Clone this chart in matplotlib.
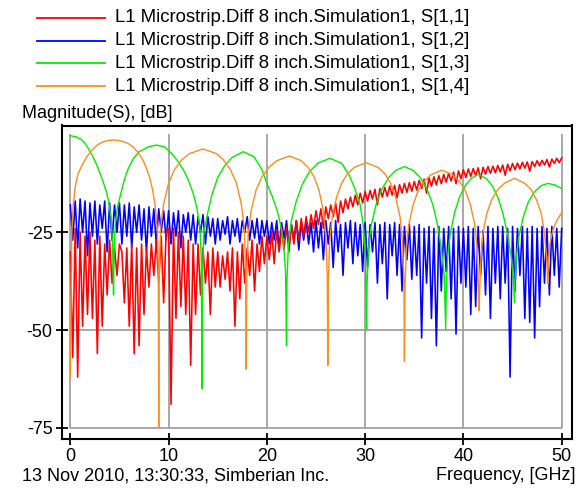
"""
S-parameter magnitude plot, L1 microstrip diff pair, 8 inch.
Four traces: S[1,1] .. S[1,4], 0-50 GHz.
"""

import numpy as np
import matplotlib

matplotlib.use("Agg")
import matplotlib.pyplot as plt
from matplotlib.lines import Line2D

plt.rcParams["font.family"] = ["Liberation Sans", "DejaVu Sans"]
plt.rcParams["axes.unicode_minus"] = False

LABELS = [
    "L1 Microstrip.Diff 8 inch.Simulation1, S[1,1]",
    "L1 Microstrip.Diff 8 inch.Simulation1, S[1,2]",
    "L1 Microstrip.Diff 8 inch.Simulation1, S[1,3]",
    "L1 Microstrip.Diff 8 inch.Simulation1, S[1,4]",
]
COLORS = ["#ff0000", "#0000ff", "#00ee00", "#ff8c1e"]

# uniform sweep for the two noisy traces (0.25 GHz step)
freq = np.linspace(0, 50, 201)

s11_db = [
    -30, -57, -24, -62, -25, -49, -26, -46, -25, -47, -27, -56, -26, -49, -28, -41, -27, -38, -29, -36,
    -28, -30, -43, -29, -49, -28, -56, -29, -54, -28, -46, -29, -39, -28, -36, -27, -38, -26, -43, -25,
    -24, -69, -24, -47, -25, -44, -26, -46, -27, -59, -28, -46, -28, -41, -29, -38, -30, -46, -29, -39,
    -30, -39, -31, -37, -30, -40, -29, -49, -30, -42, -28, -38, -29, -36, -27, -40, -28, -35, -26, -33,
    -26, -32, -25, -33, -24.5, -30, -24, -29.5, -23.5, -30, -23, -28, -22, -27, -21.5, -26, -21, -25, -20.5, -24,
    -19.5, -23, -19, -24, -18.5, -21.5, -18, -21, -17.5, -22.5, -17, -20, -16.5, -19, -16, -18.5, -15.5, -18, -15, -17.5,
    -14.6, -17, -14.3, -16.5, -14, -18, -13.8, -16, -13.5, -15.8, -13.2, -15.5, -13, -16.2, -12.8, -15, -12.5, -14.8, -12.3, -14.5,
    -12, -14.2, -11.7, -13.8, -11.4, -15, -11.1, -13.2, -10.8, -12.9, -10.5, -12.6, -10.2, -12.2, -9.9, -11.9, -9.6, -12.6, -9.3, -11.3,
    -9, -11, -8.8, -10.7, -8.7, -10.5, -8.5, -11.3, -8.4, -10.1, -8.2, -9.9, -8.1, -9.8, -7.9, -9.6, -7.8, -10.4, -7.6, -9.3,
    -7.4, -9, -7.3, -8.8, -7.1, -8.6, -7, -9.4, -6.9, -8.2, -6.7, -8, -6.6, -7.8, -6.4, -8.3, -6.3, -7.4, -6.1, -7.2,
    -6,
]

s12_db = [
    -18, -27, -17, -29, -16.5, -25, -17, -31, -17.5, -26, -17, -28, -18, -24, -17, -30, -17.5, -27, -18, -25,
    -17.5, -28, -18, -26, -17.5, -29, -18.5, -25, -18, -27, -19, -30, -18.5, -26, -19, -28, -19, -25, -19.5, -27,
    -19.5, -28, -20, -26, -19.5, -29, -20.5, -25, -20, -27, -20.5, -28, -21, -25, -20.5, -28, -21, -26, -21.5, -28,
    -21.5, -27, -22, -25.5, -21, -28, -22, -26, -21.5, -27.5, -22, -25, -21, -27, -22, -26.5, -21.5, -28, -22, -26,
    -22, -28, -22.5, -27, -22, -29, -22.5, -26.5, -22, -28.5, -23, -27, -22, -29.5, -22.5, -27, -22, -28, -22.5, -30,
    -22, -29, -22.5, -32, -22, -28, -22.5, -34, -22, -30, -23, -36, -22.5, -29, -22, -33, -22.5, -31, -23, -35,
    -22.5, -34, -23, -30, -22.5, -38, -23, -33, -22.5, -42, -23, -31, -22.5, -36, -23, -40, -23.5, -32, -23, -37,
    -23.5, -36, -23, -52, -24, -38, -23.5, -47, -24, -54, -23.5, -40, -24, -35, -23.5, -42, -24, -51, -23.5, -38,
    -24, -39, -23.5, -46, -24, -44, -23.5, -36, -24.5, -41, -23.5, -47, -24, -38, -23.5, -42, -23.5, -38, -24, -62,
    -23.5, -40, -24, -36, -23.5, -47, -24, -48, -23.5, -52, -24, -44, -23.5, -38, -24, -41, -23.5, -36, -24, -39,
    -24,
]

# smooth traces, sampled at read-off points
s13_f = [
    0.0, 0.6, 1.2, 1.7, 2.2, 2.7, 3.2, 3.6, 3.9, 4.15, 4.3, 4.4,
    4.45, 4.6, 4.8, 5.1, 5.5, 5.9, 6.4, 7.0, 8.0, 8.8, 9.6, 10.3, 11.0, 11.6, 12.0, 12.5, 12.9, 13.2, 13.33, 13.4,
    13.45, 13.6, 13.9, 14.4, 15.0, 15.7, 16.5, 17.6, 18.7, 19.5, 20.0, 20.5, 21.0, 21.4, 21.7, 21.9, 22.0,
    22.05, 22.2, 22.5, 23.0, 23.6, 24.3, 25.2, 26.4, 27.6, 28.4, 28.9, 29.5, 29.85, 30.05, 30.15,
    30.2, 30.35, 30.6, 31.1, 31.7, 32.4, 33.1, 34.0, 34.9, 35.6, 36.3, 36.9, 37.4, 37.75, 38.05, 38.2,
    38.25, 38.4, 38.65, 39.1, 39.6, 40.2, 40.8, 41.5, 42.3, 42.9, 43.5, 44.0, 44.5, 44.85, 45.1, 45.2,
    45.25, 45.4, 45.65, 46.1, 46.6, 47.2, 47.9, 48.6, 49.3, 50.0,
]
s13_db = [
    -0.3, -0.6, -1.4, -3.0, -5.2, -7.8, -11.1, -14, -17, -21.5, -28, -41,
    -30, -22, -18.5, -15.5, -11.5, -8.7, -6.2, -4.4, -3.1, -2.7, -3.2, -4.8, -7.0, -9.5, -11.6, -15, -19, -24, -32, -65,
    -35, -25, -21, -15.5, -11, -8, -5.8, -4.4, -5.7, -9.0, -12.5, -15.5, -19, -23, -28, -35, -54,
    -37, -28, -22, -17, -12.8, -9.6, -7.3, -6.1, -7.3, -10.5, -13.5, -18, -24, -32, -50,
    -38, -29, -23.5, -18, -14, -11, -9.2, -8.2, -9.2, -11, -14, -18, -23.5, -29, -36, -50,
    -40, -31, -25.5, -20, -16, -13, -11.2, -10.2, -11.2, -13, -16, -20, -25.5, -31, -37, -43,
    -37, -31, -26, -21, -17.3, -14.7, -13.1, -12.5, -12.9, -13.8,
]

s14_f = [
    0.0, 0.15, 0.3, 0.5, 0.8, 1.2, 1.7, 2.2, 2.7, 3.2, 3.7, 4.25, 4.9, 5.5, 5.9, 6.4, 6.9, 7.3, 7.7, 8.1,
    8.4, 8.65, 8.85, 8.95, 9.0,
    9.05, 9.2, 9.5, 10.0, 10.6, 11.3, 12.1, 13.5, 14.9, 15.6, 16.3, 16.9, 17.4, 17.7, 17.85, 17.9,
    17.95, 18.1, 18.4, 18.9, 19.5, 20.2, 21.0, 22.3, 23.5, 24.2, 24.8, 25.3, 25.75, 26.0, 26.15, 26.2,
    26.25, 26.4, 26.65, 27.1, 27.6, 28.2, 28.9, 30.1, 31.3, 32.0, 32.6, 33.1, 33.55, 33.8, 33.95, 34.0,
    34.05, 34.2, 34.45, 34.9, 35.4, 36.0, 36.7, 37.8, 38.9, 39.6, 40.2, 40.7, 41.15, 41.4, 41.55, 41.6,
    41.65, 41.8, 42.0, 42.4, 42.9, 43.5, 44.2, 45.2, 46.2, 46.9, 47.4, 47.9, 48.25, 48.45, 48.55, 48.6,
    48.65, 48.8, 49.1, 49.5, 50.0,
]
s14_db = [
    -62, -25, -18, -13.3, -10, -7.8, -5.6, -4.0, -2.8, -2.0, -1.6, -1.4, -1.5, -1.9, -2.3, -3.2, -4.6, -6.1, -8.3, -11.2,
    -14.5, -18.5, -24, -33, -75,
    -34.7, -23.7, -17.7, -12.4, -9.0, -6.6, -4.9, -3.7, -4.9, -6.6, -9.0, -12.4, -17.7, -23.7, -34.7, -60,
    -36.5, -25.5, -19.5, -14.2, -10.8, -8.4, -6.7, -5.5, -6.7, -8.4, -10.8, -14.2, -19.5, -25.5, -36.5, -59,
    -38, -27, -21, -16, -12.5, -10, -8.4, -7.2, -8.4, -10, -12.5, -16, -21, -27, -38, -58,
    -40, -29, -23, -17.8, -14.4, -12, -10.3, -9.1, -10.3, -12, -14.4, -17.8, -23, -29, -40, -45,
    -40, -31, -25, -20, -16.5, -14.1, -12.4, -11.2, -12.4, -14.1, -16.5, -20, -25, -31, -36, -38,
    -33, -28, -24.5, -22, -20,
]

X_TICKS = [0, 10, 20, 30, 40, 50]
Y_TICKS = [-25, -50, -75]

W, H = 587, 491
fig = plt.figure(figsize=(W / 100, H / 100), dpi=100)
fig.patch.set_facecolor("white")
ax = fig.add_axes([61.7 / W, 52.5 / H, 509.8 / W, 313 / H])

# grid box only spans the data range, like the original tool draws it
GRID = "#999999"
ax.vlines(X_TICKS, -75, 0, color=GRID, linewidth=1.2, zorder=1)
ax.hlines(Y_TICKS, 0, 50, color=GRID, linewidth=1.2, zorder=1)

ax.plot(freq, s12_db, color=COLORS[1], linewidth=1.15, zorder=2)
ax.plot(freq, s11_db, color=COLORS[0], linewidth=1.15, zorder=3)
ax.plot(s13_f, s13_db, color=COLORS[2], linewidth=1.0, zorder=4)
ax.plot(s14_f, s14_db, color=COLORS[3], linewidth=1.0, zorder=5)

ax.set_xlim(-0.875, 51.0)
ax.set_ylim(-77.7, 2.3)
ax.set_xticks(X_TICKS)
ax.set_yticks(Y_TICKS)
ax.tick_params(direction="inout", length=9, width=1.3, labelsize=13,
               colors="black", pad=2)
for sp in ax.spines.values():
    sp.set_linewidth(1.5)
    sp.set_color("black")

# legend, hand placed above the plot
for i, (c, lab) in enumerate(zip(COLORS, LABELS)):
    y = 1 - (18 + 22.7 * i) / H
    fig.add_artist(Line2D([37 / W, 105 / W], [y, y], color=c, linewidth=1.3,
                          transform=fig.transFigure))
    fig.text(115 / W, y, lab, fontsize=13.4, va="center", ha="left")

fig.text(22 / W, 1 - 113 / H, "Magnitude(S), [dB]", fontsize=13, va="center", ha="left")
fig.text(22 / W, 1 - 476 / H, "13 Nov 2010, 13:30:33, Simberian Inc.", fontsize=13,
         va="center", ha="left")
fig.text(575 / W, 1 - 476 / H, "Frequency, [GHz]", fontsize=13, va="center", ha="right")

fig.savefig("out.png", dpi=100)
plt.close(fig)
